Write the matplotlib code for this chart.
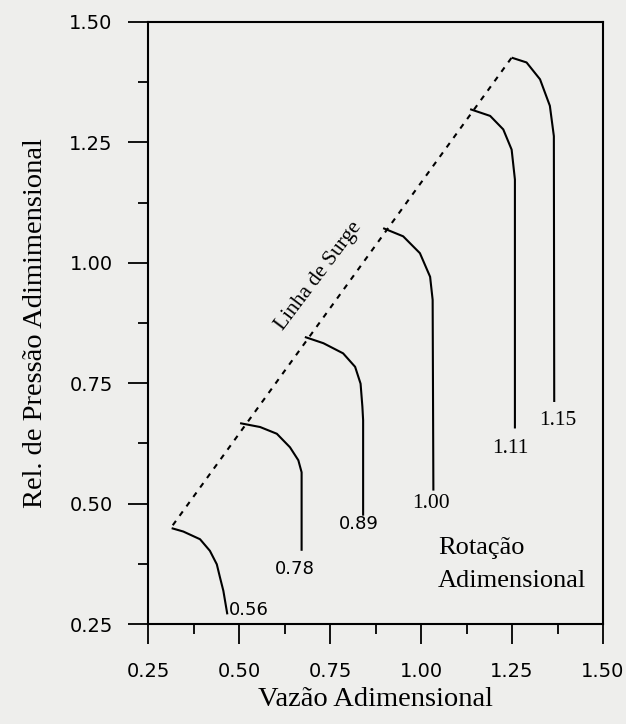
import matplotlib
matplotlib.use("Agg")
import matplotlib.pyplot as plt
from matplotlib.ticker import MultipleLocator, FormatStrFormatter

# ---- data ----
x_056 = [0.315, 0.347, 0.393, 0.420, 0.439, 0.448, 0.457, 0.468]
y_056 = [0.449, 0.442, 0.426, 0.402, 0.374, 0.346, 0.319, 0.270]

x_078 = [0.503, 0.558, 0.604, 0.640, 0.663, 0.672, 0.672]
y_078 = [0.667, 0.659, 0.645, 0.617, 0.590, 0.565, 0.402]

x_089 = [0.681, 0.732, 0.786, 0.819, 0.834, 0.839, 0.841, 0.841]
y_089 = [0.846, 0.833, 0.812, 0.784, 0.749, 0.701, 0.673, 0.475]

x_100 = [0.896, 0.951, 0.997, 1.025, 1.032, 1.034]
y_100 = [1.072, 1.055, 1.020, 0.971, 0.923, 0.527]

x_111 = [1.135, 1.190, 1.226, 1.249, 1.258, 1.258]
y_111 = [1.319, 1.305, 1.277, 1.235, 1.173, 0.656]

x_115 = [1.249, 1.290, 1.327, 1.354, 1.365, 1.366]
y_115 = [1.426, 1.416, 1.381, 1.326, 1.263, 0.711]

surge_x = [0.318, 1.249]
surge_y = [0.455, 1.426]

speed_labels = ["0.56", "0.78", "0.89", "1.00", "1.11", "1.15"]
label_x = [0.473, 0.654, 0.828, 1.027, 1.245, 1.377]
label_y = [0.280, 0.364, 0.458, 0.500, 0.614, 0.673]

x_ticks = [0.25, 0.50, 0.75, 1.00, 1.25, 1.50]
y_ticks = [0.25, 0.50, 0.75, 1.00, 1.25, 1.50]

# ---- figure ----
bg = "#eeeeec"
fig = plt.figure(figsize=(6.26, 7.24), dpi=100, facecolor=bg)
ax = fig.add_axes([148/626, 1-624/724, (603-148)/626, (624-22)/724])
ax.set_facecolor(bg)

line_kw = dict(color="black", lw=1.5, solid_capstyle="butt")
for xs, ys in [(x_056, y_056), (x_078, y_078), (x_089, y_089),
               (x_100, y_100), (x_111, y_111), (x_115, y_115)]:
    ax.plot(xs, ys, **line_kw)

ax.plot(surge_x, surge_y, color="black", lw=1.5, linestyle=(0, (2.6, 3.0)))

serif = "Liberation Serif"
for i, (lab, lx, ly) in enumerate(zip(speed_labels, label_x, label_y)):
    if i == 0:
        ax.text(lx, ly, lab, ha="left", va="center", fontsize=13,
                family="DejaVu Sans")
    elif i < 3:
        ax.text(lx, ly, lab, ha="center", va="center", fontsize=13,
                family="DejaVu Sans")
    else:
        ax.text(lx, ly, lab, ha="center", va="center", fontsize=15.5,
                family=serif)

ax.text(1.047, 0.408, "Rotação", ha="left", va="center", fontsize=19, family=serif)
ax.text(1.047, 0.340, "Adimensional", ha="left", va="center", fontsize=19, family=serif)

ax.text(0.718, 0.972, "Linha de Surge", ha="center", va="center", fontsize=15.5,
        family=serif, rotation=53, rotation_mode="anchor")

ax.set_xlim(0.25, 1.50)
ax.set_ylim(0.25, 1.50)
ax.set_xticks(x_ticks)
ax.set_yticks(y_ticks)
ax.xaxis.set_major_formatter(FormatStrFormatter("%.2f"))
ax.yaxis.set_major_formatter(FormatStrFormatter("%.2f"))
ax.xaxis.set_minor_locator(MultipleLocator(0.125))
ax.yaxis.set_minor_locator(MultipleLocator(0.125))
ax.tick_params(which="major", direction="out", length=14.4, width=1.3,
               labelsize=14)
ax.tick_params(which="minor", direction="out", length=7.2, width=1.3)
ax.tick_params(axis="x", which="major", pad=13)
ax.tick_params(axis="y", which="major", pad=11)
for lab in ax.get_xticklabels() + ax.get_yticklabels():
    lab.set_family("DejaVu Sans")

for s in ax.spines.values():
    s.set_linewidth(1.5)

ax.set_xlabel("Vazão Adimensional", fontsize=20.5, family=serif)
ax.set_ylabel("Rel. de Pressão Adimimensional", fontsize=20.5, family=serif)
ax.xaxis.set_label_coords(0.5, (624-699)/602)
ax.xaxis.label.set_va("center")
ax.yaxis.set_label_coords((36-148)/455, 0.5)
ax.yaxis.label.set_va("center")

fig.savefig("out.png", dpi=100, facecolor=bg)
